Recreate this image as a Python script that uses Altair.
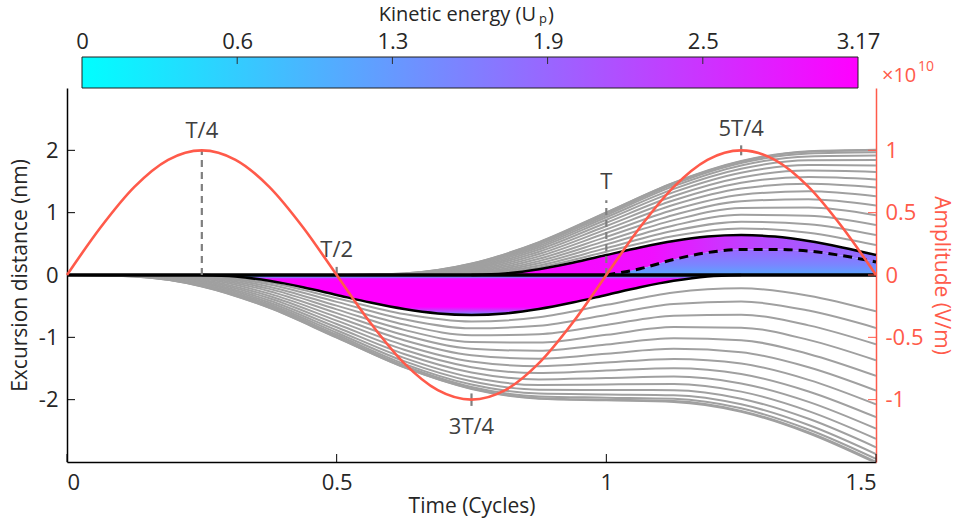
import altair as alt
import pandas as pd

FONT = "Open Sans"
RED = "#ff5a4a"
GRAY = "#a0a0a0"
INK = "#262626"
NOTE = "#404040"

PLOT_W, PLOT_H = 809, 374
BAR_H = 31
LABEL_SIZE = 22
TITLE_SIZE = 21

# ---------------------------------------------------------------------------
# Electron trajectories: excursion (nm) tabulated on a common time grid (cycles)
# ---------------------------------------------------------------------------
T_GRID = [0.125, 0.25, 0.375, 0.5, 0.625, 0.75, 0.875, 1.0, 1.125, 1.25, 1.375, 1.5]

# born during the first quarter cycle -> drift towards negative x
LOWER_BIRTH = [0.0, 0.0167, 0.0333, 0.05, 0.0667, 0.0833, 0.1, 0.1167,
               0.1333, 0.15, 0.1667, 0.1833, 0.2, 0.2167, 0.2333]
LOWER_X = [
    [-0.025, -0.183, -0.528, -1.005, -1.483, -1.828, -1.986, -2.011, -2.036, -2.193, -2.538, -3.016],
    [-0.024, -0.180, -0.524, -1.000, -1.476, -1.820, -1.976, -2.000, -2.023, -2.180, -2.523, -2.999],
    [-0.021, -0.173, -0.512, -0.984, -1.456, -1.796, -1.948, -1.968, -1.987, -2.139, -2.479, -2.951],
    [-0.016, -0.161, -0.494, -0.959, -1.425, -1.758, -1.903, -1.916, -1.928, -2.074, -2.406, -2.872],
    [-0.011, -0.147, -0.470, -0.926, -1.382, -1.705, -1.841, -1.844, -1.848, -1.984, -2.307, -2.763],
    [-0.006, -0.130, -0.442, -0.886, -1.329, -1.641, -1.765, -1.756, -1.747, -1.871, -2.183, -2.627],
    [-0.003, -0.112, -0.409, -0.839, -1.268, -1.565, -1.675, -1.652, -1.629, -1.739, -2.036, -2.465],
    [-0.001, -0.093, -0.374, -0.787, -1.200, -1.480, -1.573, -1.534, -1.494, -1.587, -1.868, -2.281],
    [-0.075, -0.337, -0.731, -1.126, -1.387, -1.462, -1.404, -1.346, -1.420, -1.682, -2.076],
    [-0.057, -0.299, -0.673, -1.047, -1.288, -1.342, -1.263, -1.185, -1.239, -1.480, -1.854],
    [-0.041, -0.260, -0.612, -0.964, -1.184, -1.215, -1.115, -1.014, -1.046, -1.266, -1.618],
    [-0.027, -0.223, -0.551, -0.880, -1.076, -1.084, -0.960, -0.836, -0.845, -1.041, -1.369],
    [-0.015, -0.187, -0.491, -0.795, -0.966, -0.950, -0.801, -0.653, -0.637, -0.808, -1.112],
    [-0.007, -0.153, -0.431, -0.710, -0.856, -0.814, -0.640, -0.466, -0.425, -0.571, -0.849],
    [-0.002, -0.122, -0.374, -0.627, -0.747, -0.679, -0.479, -0.279, -0.212, -0.332, -0.584],
]

# born during the third quarter cycle -> drift towards positive x
UPPER_BIRTH = [0.5, 0.5167, 0.5333, 0.55, 0.5667, 0.5833, 0.6, 0.6167,
               0.6333, 0.65, 0.6667, 0.6833, 0.7, 0.7167, 0.7333]
UPPER_X = [
    [0.025, 0.183, 0.528, 1.005, 1.483, 1.828, 1.986, 2.011],
    [0.024, 0.180, 0.524, 1.000, 1.476, 1.820, 1.976, 2.000],
    [0.021, 0.173, 0.512, 0.984, 1.456, 1.796, 1.948, 1.968],
    [0.016, 0.161, 0.494, 0.959, 1.425, 1.758, 1.903, 1.916],
    [0.011, 0.147, 0.470, 0.926, 1.382, 1.705, 1.841, 1.844],
    [0.006, 0.130, 0.442, 0.886, 1.329, 1.641, 1.765, 1.756],
    [0.003, 0.112, 0.409, 0.839, 1.268, 1.565, 1.675, 1.652],
    [0.001, 0.093, 0.374, 0.787, 1.200, 1.480, 1.573, 1.534],
    [0.075, 0.337, 0.731, 1.126, 1.387, 1.462, 1.404],
    [0.057, 0.299, 0.673, 1.047, 1.288, 1.342, 1.263],
    [0.041, 0.260, 0.612, 0.964, 1.184, 1.215, 1.115],
    [0.027, 0.223, 0.551, 0.880, 1.076, 1.084, 0.960],
    [0.015, 0.187, 0.491, 0.795, 0.966, 0.950, 0.801],
    [0.007, 0.153, 0.431, 0.710, 0.856, 0.814, 0.640],
    [0.002, 0.122, 0.374, 0.627, 0.747, 0.679, 0.479],
]

# boundaries of the returning (re-colliding) trajectories
LOWER_EDGE_T = [0.25, 0.3125, 0.375, 0.4375, 0.5, 0.5625, 0.625, 0.6875, 0.75,
                0.8125, 0.875, 0.9375, 1.0, 1.0625, 1.125, 1.1875, 1.25]
LOWER_EDGE_X = [0, -0.024, -0.094, -0.197, -0.32, -0.442, -0.546, -0.616, -0.64,
                -0.616, -0.546, -0.442, -0.32, -0.197, -0.094, -0.024, 0]
UPPER_EDGE_T = [0.75, 0.8125, 0.875, 0.9375, 1.0, 1.0625, 1.125, 1.1875, 1.25,
                1.3125, 1.375, 1.4375, 1.5]
UPPER_EDGE_X = [0, 0.024, 0.094, 0.197, 0.32, 0.442, 0.546, 0.616, 0.64,
                0.616, 0.546, 0.442, 0.32]
DASH_T = [1.0, 1.0625, 1.125, 1.1875, 1.25, 1.3125, 1.375, 1.4375, 1.5]
DASH_X = [0, 0.10, 0.25, 0.36, 0.41, 0.41, 0.385, 0.31, 0.21]

# laser field (units of 1e10 V/m)
FIELD_T = [0, 0.0625, 0.125, 0.1875, 0.25, 0.3125, 0.375, 0.4375, 0.5, 0.5625, 0.625,
           0.6875, 0.75, 0.8125, 0.875, 0.9375, 1.0, 1.0625, 1.125, 1.1875, 1.25,
           1.3125, 1.375, 1.4375, 1.5]
FIELD_E = [0, 0.383, 0.707, 0.924, 1, 0.924, 0.707, 0.383, 0, -0.383, -0.707,
           -0.924, -1, -0.924, -0.707, -0.383, 0, 0.383, 0.707, 0.924, 1,
           0.924, 0.707, 0.383, 0]

# phase markers
NOTE_LABELS = ["T/4", "T/2", "3T/4", "T", "5T/4"]
NOTE_T = [0.25, 0.5, 0.75, 1.0, 1.25]
NOTE_Y = [2.31, 0.40, -2.44, 1.50, 2.35]
GUIDE_DASHED = [(0.25, 0.0, 2.0), (1.0, 0.0, 1.2)]
GUIDE_TICKS = [(0.5, 0.0, 0.13), (0.75, -1.9, -2.1), (1.25, 1.92, 2.08)]

# axes
X_TICKS = [0, 0.5, 1, 1.5]
Y_TICKS = [-2, -1, 0, 1, 2]
E_TICKS = [-1, -0.5, 0, 0.5, 1]

# colour bar (kinetic energy in Up)
E_MAX = 3.17
CB_TICKS = [0, 0.634, 1.268, 1.902, 2.536, 3.17]
CB_LABELS = ["0", "0.6", "1.3", "1.9", "2.5", "3.17"]

# ---------------------------------------------------------------------------
x_scale = alt.Scale(domain=[0, 1.5], nice=False, zero=False)
y_scale = alt.Scale(domain=[-3, 3], nice=False, zero=False)
e_scale = alt.Scale(domain=[-1.5, 1.5], nice=False, zero=False)


def traj_frame(tag, births, values):
    rows = []
    for i, (t0, xs) in enumerate(zip(births, values)):
        rows.append({"traj": f"{tag}{i}", "t": t0, "x": 0.0})
        for t, x in zip(T_GRID[-len(xs):], xs):
            rows.append({"traj": f"{tag}{i}", "t": t, "x": x})
    return pd.DataFrame(rows)


gray_df = pd.concat([traj_frame("lo", LOWER_BIRTH, LOWER_X),
                     traj_frame("up", UPPER_BIRTH, UPPER_X)], ignore_index=True)

NUM_LABEL = "toString(datum.value)"

x_axis = alt.Axis(values=X_TICKS, labelExpr=NUM_LABEL, ticks=False, tickSize=0,
                  grid=False, domainColor="black", domainWidth=1.5, labelFontSize=LABEL_SIZE,
                  labelColor=INK, labelPadding=10, title="Time (Cycles)",
                  titleFontSize=TITLE_SIZE, titleFontWeight="normal", titleColor=INK,
                  titlePadding=2)
y_axis = alt.Axis(values=Y_TICKS, labelExpr=NUM_LABEL, ticks=False, tickSize=0,
                  grid=False, domainColor="black", domainWidth=1.5, labelFontSize=LABEL_SIZE,
                  labelColor=INK, labelPadding=9, title="Excursion distance (nm)",
                  titleFontSize=TITLE_SIZE, titleFontWeight="normal", titleColor=INK,
                  titlePadding=8)
e_axis = alt.Axis(orient="right", values=E_TICKS, labelExpr=NUM_LABEL,
                  ticks=False, tickSize=0, grid=False, domainColor=RED, domainWidth=1.5,
                  labelFontSize=LABEL_SIZE, labelColor=RED, labelPadding=9,
                  title="Amplitude (V/m)", titleFontSize=TITLE_SIZE, titleFontWeight="normal",
                  titleColor=RED, titlePadding=7)


def xe():
    return alt.X("t:Q", scale=x_scale, axis=x_axis)


def ye(field="x:Q"):
    return alt.Y(field, scale=y_scale, axis=y_axis)


def ee(field="e:Q"):
    return alt.Y(field, scale=e_scale, axis=e_axis)


gray_lines = alt.Chart(gray_df).mark_line(
    color=GRAY, strokeWidth=2, interpolate="monotone", clip=True
).encode(x=xe(), y=ye(), detail="traj:N")

# coloured envelopes of the returning electrons
lower_grad = alt.Gradient(
    gradient="linear", x1=0, x2=0, y1=0, y2=1,
    stops=[alt.GradientStop(color="#40c8ff", offset=0),
           alt.GradientStop(color="#7090ff", offset=0.05),
           alt.GradientStop(color="#e020ff", offset=0.09),
           alt.GradientStop(color="#ff00ff", offset=0.14),
           alt.GradientStop(color="#ff00ff", offset=0.8),
           alt.GradientStop(color="#b050ff", offset=0.92),
           alt.GradientStop(color="#6a95ff", offset=1)])
upper_grad = alt.Gradient(
    gradient="linear", x1=0, x2=1, y1=0, y2=0,
    stops=[alt.GradientStop(color="#ff00ff", offset=0),
           alt.GradientStop(color="#f010ff", offset=0.45),
           alt.GradientStop(color="#b848ff", offset=0.72),
           alt.GradientStop(color="#8c74ff", offset=1)])
inner_grad = alt.Gradient(
    gradient="linear", x1=0, x2=0, y1=0, y2=1,
    stops=[alt.GradientStop(color="#9a66ff", offset=0),
           alt.GradientStop(color="#7a86ff", offset=0.6),
           alt.GradientStop(color="#5aa6ff", offset=1)])

lower_df = pd.DataFrame({"t": LOWER_EDGE_T, "x": LOWER_EDGE_X, "b": [0.0] * len(LOWER_EDGE_T)})
dash_lookup = dict(zip(DASH_T, DASH_X))
upper_df = pd.DataFrame({"t": UPPER_EDGE_T, "x": UPPER_EDGE_X,
                         "b": [dash_lookup.get(t, 0.0) for t in UPPER_EDGE_T]})
dash_df = pd.DataFrame({"t": DASH_T, "x": DASH_X, "b": [0.0] * len(DASH_T)})

area_lower = alt.Chart(lower_df).mark_area(color=lower_grad, interpolate="monotone").encode(
    x=xe(), y=ye(), y2="b:Q")
area_upper = alt.Chart(upper_df).mark_area(color=upper_grad, interpolate="monotone").encode(
    x=xe(), y=ye(), y2="b:Q")
area_inner = alt.Chart(dash_df).mark_area(color=inner_grad, interpolate="monotone").encode(
    x=xe(), y=ye(), y2="b:Q")

zero_line = alt.Chart(pd.DataFrame({"t": [0, 1.5], "x": [0, 0]})).mark_line(
    color="black", strokeWidth=3.5).encode(x=xe(), y=ye())
edge_lower = alt.Chart(lower_df).mark_line(
    color="black", strokeWidth=2.5, interpolate="monotone").encode(x=xe(), y=ye())
edge_upper = alt.Chart(upper_df).mark_line(
    color="black", strokeWidth=2.5, interpolate="monotone").encode(x=xe(), y=ye())
dash_line = alt.Chart(dash_df).mark_line(
    color="black", strokeWidth=3, strokeDash=[9, 6], interpolate="monotone").encode(x=xe(), y=ye())

guide_dash_df = pd.DataFrame(GUIDE_DASHED, columns=["t", "x", "x1"])
guide_tick_df = pd.DataFrame(GUIDE_TICKS, columns=["t", "x", "x1"])
guides_dashed = alt.Chart(guide_dash_df).mark_rule(
    color="#7f7f7f", strokeWidth=2.2, strokeDash=[7, 5]).encode(
    x=xe(), y=ye(), y2="x1:Q")
guides_ticks = alt.Chart(guide_tick_df).mark_rule(
    color="#7f7f7f", strokeWidth=2.2).encode(x=xe(), y=ye(), y2="x1:Q")

notes = alt.Chart(pd.DataFrame({"t": NOTE_T, "x": NOTE_Y, "s": NOTE_LABELS})).mark_text(
    fontSize=LABEL_SIZE, color=NOTE, align="center", baseline="middle").encode(
    x=xe(), y=ye(), text="s:N")

# inward-pointing tick marks
left_ticks = alt.Chart(pd.DataFrame({"x": Y_TICKS})).mark_rule(
    color="black", strokeWidth=1).encode(y=ye(), x=alt.value(0), x2=alt.value(8))
bottom_ticks = alt.Chart(pd.DataFrame({"t": X_TICKS})).mark_rule(
    color="black", strokeWidth=1).encode(x=xe(), y=alt.value(PLOT_H), y2=alt.value(PLOT_H - 8))

left_group = alt.layer(
    gray_lines, area_lower, area_upper, area_inner, zero_line, edge_lower, edge_upper,
    dash_line, guides_dashed, guides_ticks, notes, left_ticks, bottom_ticks)

field_line = alt.Chart(pd.DataFrame({"t": FIELD_T, "e": FIELD_E})).mark_line(
    color=RED, strokeWidth=2.6, interpolate="monotone").encode(x=xe(), y=ee())
right_ticks = alt.Chart(pd.DataFrame({"e": E_TICKS})).mark_rule(
    color=RED, strokeWidth=1).encode(y=ee(), x=alt.value(PLOT_W), x2=alt.value(PLOT_W - 8))
exp_df = pd.DataFrame({"t": [1.5], "e": [1.5]})
exp_main = alt.Chart(exp_df).mark_text(
    text="×10", fontSize=20, color=RED, align="left", baseline="middle", dx=6, dy=-12).encode(
    x=xe(), y=ee())
exp_sup = alt.Chart(exp_df).mark_text(
    text="10", fontSize=14, color=RED, align="left", baseline="middle", dx=42, dy=-21).encode(
    x=xe(), y=ee())

right_group = alt.layer(field_line, right_ticks, exp_main, exp_sup)

main = alt.layer(left_group, right_group).resolve_scale(y="independent").properties(
    width=PLOT_W, height=PLOT_H)

# ---------------------------------------------------------------------------
# colour bar
# ---------------------------------------------------------------------------
px_per_e = (PLOT_W - 15 - 18) / E_MAX
cb_scale = alt.Scale(domain=[-15 / px_per_e, E_MAX + 18 / px_per_e], nice=False, zero=False)

cb_expr = "''"
for v, lab in reversed(list(zip(CB_TICKS, CB_LABELS))):
    cb_expr = f"abs(datum.value - {v}) < 1e-6 ? '{lab}' : ({cb_expr})"

cb_axis = alt.Axis(orient="top", values=CB_TICKS, labelExpr=cb_expr, ticks=False,
                   tickSize=0, domain=False, grid=False, labelFontSize=LABEL_SIZE,
                   labelColor=INK, labelPadding=4, title=None)


def ce(field="e:Q"):
    return alt.X(field, scale=cb_scale, axis=cb_axis)


cool = alt.Gradient(gradient="linear", x1=0, x2=1, y1=0, y2=0,
                    stops=[alt.GradientStop(color="#00ffff", offset=0),
                           alt.GradientStop(color="#ff00ff", offset=1)])

cb_rect = alt.Chart(pd.DataFrame({"e": [0.0], "e1": [E_MAX]})).mark_rect(
    color=cool, stroke="#202020", strokeWidth=1).encode(
    x=ce(), x2="e1:Q", y=alt.value(0), y2=alt.value(BAR_H))
cb_ticks = alt.Chart(pd.DataFrame({"e": CB_TICKS[1:-1]})).mark_rule(
    color="#303030", strokeWidth=1).encode(x=ce(), y=alt.value(0), y2=alt.value(7))

CB_TITLE_Y = -42
cb_mid = pd.DataFrame({"e": [E_MAX / 2]})
cb_title_main = alt.Chart(cb_mid).mark_text(
    text="Kinetic energy (U", fontSize=20, color=INK, align="right", baseline="middle",
    dx=66).encode(x=ce(), y=alt.value(CB_TITLE_Y))
cb_title_sub = alt.Chart(cb_mid).mark_text(
    text="p", fontSize=13, color=INK, align="left", baseline="middle",
    dx=69, dy=4).encode(x=ce(), y=alt.value(CB_TITLE_Y))
cb_title_end = alt.Chart(cb_mid).mark_text(
    text=")", fontSize=20, color=INK, align="left", baseline="middle",
    dx=78).encode(x=ce(), y=alt.value(CB_TITLE_Y))

colorbar = alt.layer(cb_rect, cb_ticks, cb_title_main, cb_title_sub, cb_title_end).properties(
    width=PLOT_W, height=BAR_H)

chart = alt.vconcat(colorbar, main, spacing=0, bounds="flush").properties(
    padding={"left": 9, "top": 5, "right": 5, "bottom": 5}
).configure(font=FONT).configure_view(stroke=None)

chart.save("out.html", embed_options={"renderer": "svg", "actions": False})
